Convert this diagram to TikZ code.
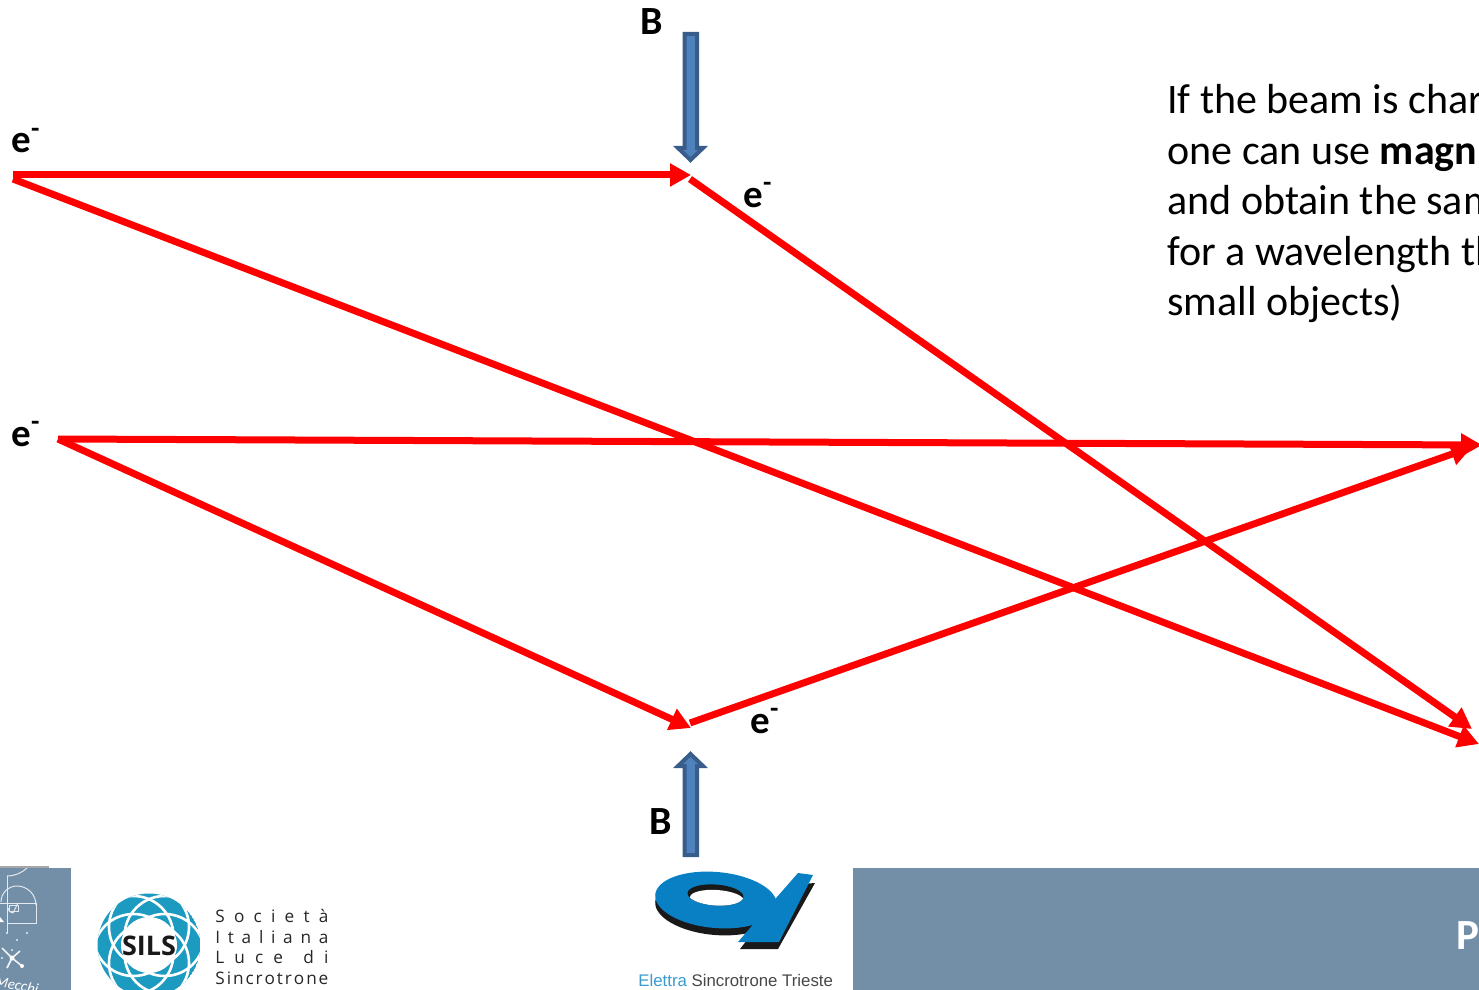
\documentclass[tikz,border=0pt]{standalone}
\usepackage{fontspec}
\usetikzlibrary{arrows.meta}
\setmainfont{Carlito}
\newfontfamily\silsfont{Open Sans}
\newfontfamily\elfont{Liberation Sans}
\definecolor{beamred}{HTML}{FF0000}
\definecolor{bfill}{HTML}{4F81BD}
\definecolor{bdraw}{HTML}{385D8A}
\definecolor{band}{HTML}{738FA8}
\definecolor{silsteal}{HTML}{1C9AC0}
\definecolor{elblue}{HTML}{0A80C4}
\newcommand{\spreadline}[1]{\makebox[56.5pt][s]{#1}}
\tikzset{
  beam/.style={draw=beamred,line width=3.5pt,-{Triangle[length=10.5pt,width=11pt]}},
  barrow/.style={fill=bfill,draw=bdraw,line width=2pt,line join=miter},
  elabel/.style={font=\fontsize{19.5}{20}\selectfont\bfseries,anchor=base west,inner sep=0pt},
  blabel/.style={font=\fontsize{20}{20}\selectfont\bfseries,anchor=base west,inner sep=0pt},
  para/.style={font=\fontsize{21}{25}\selectfont,anchor=base west,inner sep=0pt},
  silstext/.style={font=\fontsize{8.6}{10}\silsfont,anchor=base west,inner sep=0pt,text=black!85},
  logoline/.style={draw=white!80!band,line width=0.5pt}
}
\begin{document}
\begin{tikzpicture}[x=0.5pt,y=-0.5pt]
\useasboundingbox (0,0) rectangle (1479,990);
\begin{scope}
\clip (0,0) rectangle (1479,990);
% bands
\fill[band] (0,868) rectangle (71,990);
\fill[band] (853,868) rectangle (1479,990);
\node[anchor=base west,inner sep=0pt,text=white,font=\fontsize{21.5}{22}\selectfont\bfseries] (pg) at (1456,949) {P};
% left logo
\begin{scope}
\clip (0,868) rectangle (71,990);
\draw[logoline] (7,876) -- (7,933) (0,903) -- (36,903);
\draw[logoline] (7,923) -- (36,923) -- (36,903);
\draw[logoline] (7,876) arc[start angle=90,end angle=0,radius=29];
\draw[logoline] (36,905) arc[start angle=0,end angle=-90,radius=19] arc[start angle=270,end angle=180,radius=16];
\draw[logoline] (8,908) arc[start angle=180,end angle=90,radius=5] -- (18,903);
\draw[logoline] (9,905) rectangle (18,911);
\draw[white!90!band,line width=0.8pt] (12,958) -- (22,966) (12,958) -- (2,948) (12,958) -- (20,951) (12,958) -- (7,968);
\fill[white] (12,958) circle (2.5) (22,966) circle (2) (0,917) -- (4,922) -- (0,922) -- cycle;
\foreach \p in {(7,933),(17,940),(27,933),(2,958),(12,950)} \fill[white!80!band] \p circle (1.1);
\node[rotate=-12,text=white,inner sep=0pt,font=\fontsize{7.5}{8}\selectfont\itshape] (mecchi) at (17,985) {Mecchi};
\end{scope}
\draw[black!35,line width=0.6pt] (0,867) -- (49,867);
% SILS logo
\begin{scope}
\clip (149,945) circle (51.5);
\fill[silsteal] (149,945) circle (51.5);
\foreach \a in {0,60,...,300} {
  \draw[white,line width=1.3pt] ([shift={(\a+30:18)}]149,945) circle (40);
}
\fill[white] (149,945) circle (28);
\end{scope}
\node[inner sep=0pt,font=\fontsize{13.5}{14}\silsfont\bfseries,text=black!90] (silsname) at (149,946) {SILS};
\node[silstext] (s1) at (215,922) {\spreadline{S\hfill o\hfill c\hfill i\hfill e\hfill t\hfill à}};
\node[silstext] (s2) at (215,943) {\spreadline{I\hfill t\hfill a\hfill l\hfill i\hfill a\hfill n\hfill a}};
\node[silstext] (s3) at (215,963) {\spreadline{L\hfill u\hfill c\hfill e\hfill\hfill d\hfill i}};
\node[silstext] (s4) at (215,984) {\spreadline{S\hfill i\hfill n\hfill c\hfill r\hfill o\hfill t\hfill r\hfill o\hfill n\hfill e}};
% Elettra logo
\fill[black!90] (740,949) -- (778,949) -- (815,883) -- (790,885) -- cycle;
\fill[black!90,rotate around={-5:(716,907)}] (716,907) ellipse (61 and 28);
\fill[elblue,rotate around={-5:(716,900)}] (716,900) ellipse (61 and 28);
\fill[elblue] (798,873) -- (813,875) -- (779,942) -- (738,942) -- (763,913) -- (777,897) -- cycle;
\fill[black!90,rotate around={-4:(715.5,895)}] (715.5,895) ellipse (28 and 10.5);
\begin{scope}
\clip[rotate around={-4:(715.5,895)}] (715.5,895) ellipse (28 and 10.5);
\fill[white,rotate around={-4:(717,899)}] (717,899) ellipse (27 and 9);
\end{scope}
\node[anchor=base west,inner sep=0pt,font=\fontsize{8.4}{10}\elfont] (eltext) at (638,986) {\textcolor{elblue!80!white}{Elettra} \textcolor{black!72}{Sincrotrone Trieste}};
% paragraph
\node[para] (l1) at (1167,114) {If the beam is char};
\node[para] (l2) at (1167,164) {one can use \textbf{magn}};
\node[para] (l3) at (1167,214) {and obtain the sam};
\node[para] (l4) at (1167,265) {for a wavelength th};
\node[para] (l5) at (1167,315) {small objects)};
% labels
\node[blabel] (b1) at (640,35) {B};
\node[blabel] (b2) at (649,834) {B};
\node[elabel] (e1) at (11,153) {e\textsuperscript{-}};
\node[elabel] (e2) at (11,446) {e\textsuperscript{-}};
\node[elabel] (e3) at (743,207) {e\textsuperscript{-}};
\node[elabel] (e4) at (750,733) {e\textsuperscript{-}};
% field arrows
\draw[barrow] (684.5,34) -- (697,34) -- (697,148) -- (703,148) -- (690.5,160) -- (678,148) -- (684.5,148) -- cycle;
\draw[barrow] (684.5,855) -- (697,855) -- (697,766) -- (703,766) -- (690.5,754) -- (678,766) -- (684.5,766) -- cycle;
% beams
\coordinate (a0) at (13,175);
\coordinate (a1) at (691,175);
\coordinate (b0) at (13,179);
\coordinate (b1end) at (1479,744);
\coordinate (c0) at (690,179);
\coordinate (c1) at (1472,729);
\coordinate (d0) at (58,439);
\coordinate (d1) at (1482,445);
\coordinate (f1) at (691,728);
\coordinate (g0) at (690,723);
\coordinate (g1) at (1472,447);
\draw[beam] (a0) -- (a1);
\draw[beam] (b0) -- (b1end);
\draw[beam] (c0) -- (c1);
\draw[beam] (d0) -- (d1);
\draw[beam] (d0) -- (f1);
\draw[beam] (g0) -- (g1);
\end{scope}
\end{tikzpicture}
\end{document}
